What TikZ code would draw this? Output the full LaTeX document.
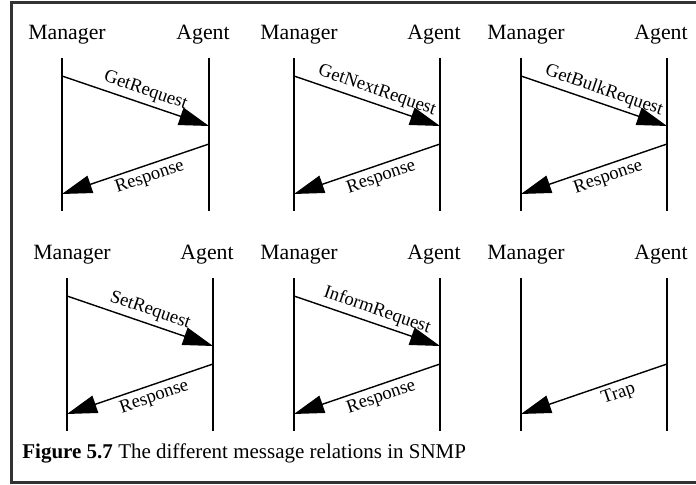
\documentclass[tikz,border=0pt]{standalone}
\usepackage{fontspec}
\setmainfont{Liberation Serif}
\usetikzlibrary{arrows.meta}
\tikzset{
  actor/.style={font=\fontsize{10.9}{12}\selectfont, inner sep=0pt},
  life/.style={line width=0.7pt},
  msg/.style={line width=0.7pt, -{Triangle[length=15pt,width=9pt]}},
  msglabel/.style={font=\fontsize{9.3}{11}\selectfont, sloped, inner sep=2pt},
  frame/.style={line width=1.5pt, black!80},
}
% #1 name, #2 manager x, #3 agent x, #4 top of the lifelines
\def\panel#1#2#3#4{%
  \node[actor] (#1man) at (#2+5,#4-23) {Manager};
  \node[actor] (#1agt) at (#3-6,#4-23) {Agent};
  \coordinate (#1mt) at (#2,#4);     \coordinate (#1mb) at (#2,#4+153);
  \coordinate (#1at) at (#3,#4);     \coordinate (#1ab) at (#3,#4+153);
  \draw[life] (#1mt) -- (#1mb);
  \draw[life] (#1at) -- (#1ab);
  \coordinate (#1mq) at (#2,#4+18);  \coordinate (#1aq) at (#3,#4+68);
  \coordinate (#1as) at (#3,#4+86);  \coordinate (#1ms) at (#2,#4+136);
}

\begin{document}
\begin{tikzpicture}[x=0.5pt,y=-0.5pt]
  \useasboundingbox (0,0) rectangle (696,485);
  \draw[frame] (696,3) -- (11,3) -- (11,483) -- (696,483);

  \panel{p1}{62}{209}{58}
  \draw[msg] (p1mq) -- node[msglabel,above,pos=0.54] {GetRequest} (p1aq);
  \draw[msg] (p1as) -- node[msglabel,below,pos=0.43] {Response} (p1ms);

  \panel{p2}{294}{440}{58}
  \draw[msg] (p2mq) -- node[msglabel,above,pos=0.54] {GetNextRequest} (p2aq);
  \draw[msg] (p2as) -- node[msglabel,below,pos=0.43] {Response} (p2ms);

  \panel{p3}{521}{667}{58}
  \draw[msg] (p3mq) -- node[msglabel,above,pos=0.54] {GetBulkRequest} (p3aq);
  \draw[msg] (p3as) -- node[msglabel,below,pos=0.43] {Response} (p3ms);

  \panel{p4}{67}{213}{278}
  \draw[msg] (p4mq) -- node[msglabel,above,pos=0.54] {SetRequest} (p4aq);
  \draw[msg] (p4as) -- node[msglabel,below,pos=0.43] {Response} (p4ms);

  \panel{p5}{294}{440}{278}
  \draw[msg] (p5mq) -- node[msglabel,above,pos=0.54] {InformRequest} (p5aq);
  \draw[msg] (p5as) -- node[msglabel,below,pos=0.43] {Response} (p5ms);

  \panel{p6}{521}{667}{278}
  \draw[msg] (p6as) -- node[msglabel,below,pos=0.36] {Trap} (p6ms);

  \node[anchor=west, inner sep=0pt, font=\fontsize{10.5}{12}\selectfont] (cap) at (22,453)
    {\textbf{Figure 5.7} The different message relations in SNMP};
\end{tikzpicture}
\end{document}
